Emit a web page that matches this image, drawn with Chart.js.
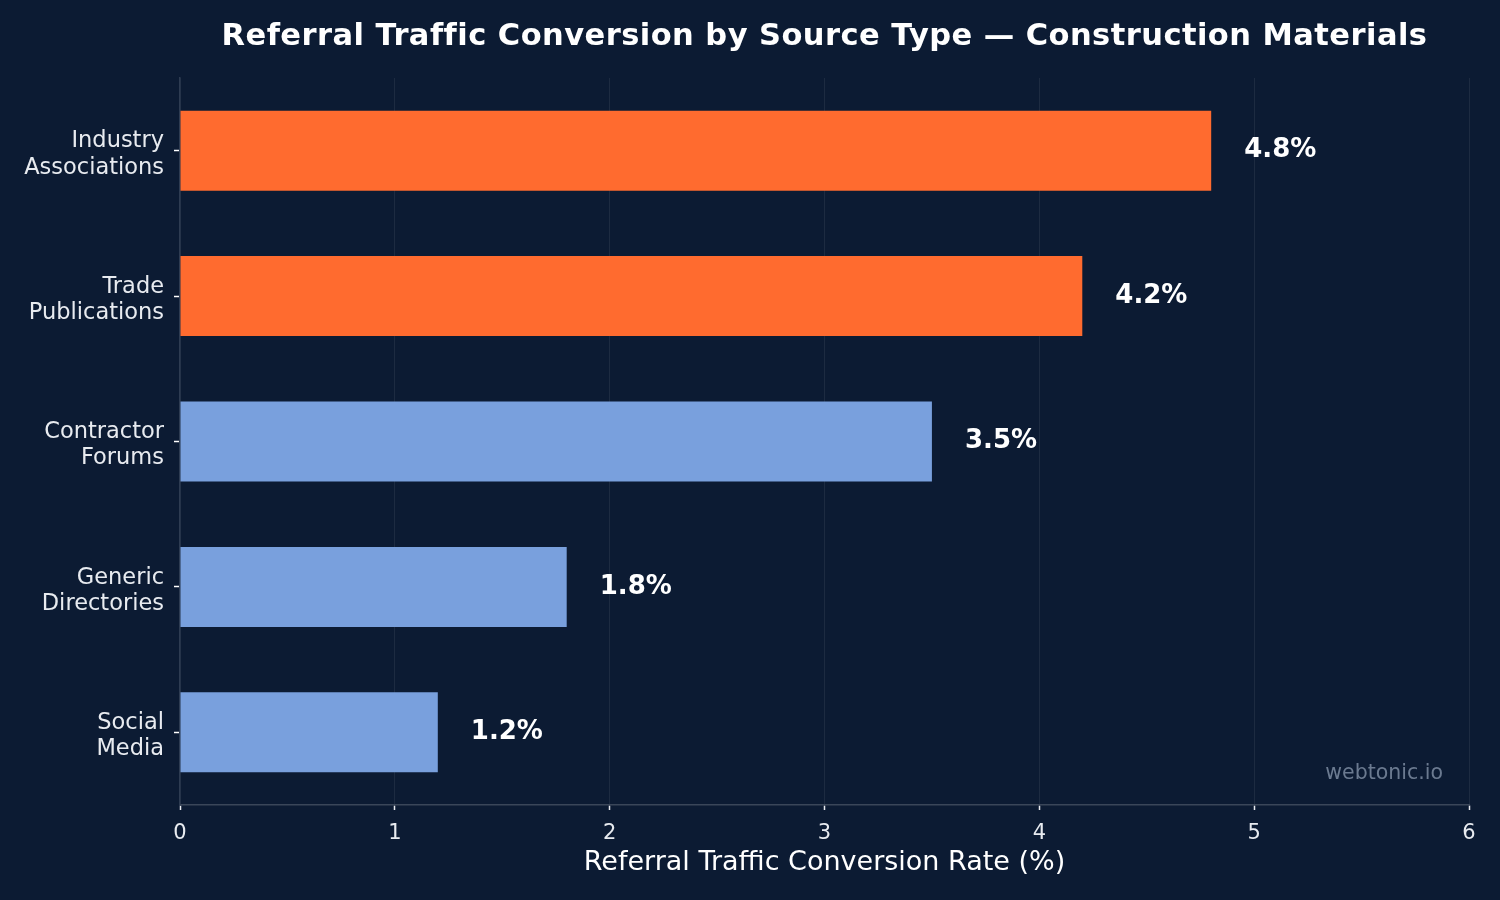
<!DOCTYPE html>
<html>
<head>
<meta charset="utf-8">
<script src="https://cdn.jsdelivr.net/npm/chart.js@4.4.1/dist/chart.umd.min.js"></script>
<style>
  html, body { margin: 0; padding: 0; background: #0c1b33; }
  #wrap { width: 1500px; height: 900px; }
</style>
</head>
<body>
<div id="wrap"><canvas id="c" width="1500" height="900"></canvas></div>
<script>
const categories = [
  ['Industry', 'Associations'],
  ['Trade', 'Publications'],
  ['Contractor', 'Forums'],
  ['Generic', 'Directories'],
  ['Social', 'Media']
];
const conversionRates = [4.8, 4.2, 3.5, 1.8, 1.2];
const highlighted = [true, true, false, false, false];
const valueLabels = ['4.8%', '4.2%', '3.5%', '1.8%', '1.2%'];
const xTicks = [0, 1, 2, 3, 4, 5, 6];

const chartTitle = 'Referral Traffic Conversion by Source Type — Construction Materials';
const xAxisTitle = 'Referral Traffic Conversion Rate (%)';
const watermark = 'webtonic.io';

const BG = '#0c1b33';
const ORANGE = '#ff6b2f';
const BLUE = '#79a0dd';
const FONT = "'DejaVu Sans', sans-serif";

const bgPlugin = {
  id: 'bg',
  beforeDraw(chart) {
    const ctx = chart.ctx;
    ctx.save();
    ctx.fillStyle = BG;
    ctx.fillRect(0, 0, chart.width, chart.height);
    ctx.restore();
  }
};

const overlayPlugin = {
  id: 'overlay',
  afterDraw(chart) {
    const ctx = chart.ctx;
    const area = chart.chartArea;
    ctx.save();
    // title
    ctx.fillStyle = '#ffffff';
    ctx.font = 'bold 30.5px ' + FONT;
    ctx.textAlign = 'center';
    ctx.textBaseline = 'alphabetic';
    if ('letterSpacing' in ctx) ctx.letterSpacing = '0.45px';
    ctx.fillText(chartTitle, (area.left + area.right) / 2, 45);
    if ('letterSpacing' in ctx) ctx.letterSpacing = '0px';
    // value labels
    const meta = chart.getDatasetMeta(0);
    ctx.font = 'bold 26px ' + FONT;
    ctx.textAlign = 'left';
    ctx.textBaseline = 'middle';
    meta.data.forEach((bar, i) => {
      ctx.fillText(valueLabels[i], bar.x + 33, bar.y);
    });
    // watermark
    ctx.fillStyle = '#6b7a90';
    ctx.font = '20.5px ' + FONT;
    ctx.textAlign = 'right';
    ctx.textBaseline = 'alphabetic';
    ctx.fillText(watermark, 1443, 779);
    ctx.restore();
  }
};

new Chart(document.getElementById('c'), {
  type: 'bar',
  data: {
    labels: categories,
    datasets: [{
      data: conversionRates,
      backgroundColor: highlighted.map(h => h ? ORANGE : BLUE),
      borderWidth: 0,
      categoryPercentage: 1.0,
      barPercentage: 0.55
    }]
  },
  options: {
    indexAxis: 'y',
    responsive: false,
    animation: false,
    devicePixelRatio: 1,
    layout: { padding: { top: 78, right: 31, bottom: 0, left: 0 } },
    plugins: {
      legend: { display: false },
      tooltip: { enabled: false },
      title: { display: false }
    },
    scales: {
      x: {
        min: 0,
        max: 6,
        afterFit(scale) { scale.height = 95; },
        afterBuildTicks(scale) { scale.ticks = xTicks.map(v => ({ value: v })); },
        ticks: {
          color: '#e8ebf0',
          font: { family: FONT, size: 21 },
          padding: 11
        },
        grid: {
          color: 'rgba(255,255,255,0.07)',
          lineWidth: 1,
          tickColor: '#e8ebf0',
          tickLength: 5,
          tickWidth: 1.5
        },
        border: { color: '#3a4659', width: 1.5 },
        title: {
          display: true,
          text: xAxisTitle,
          color: '#ffffff',
          font: { family: FONT, size: 27 },
          padding: { top: 0, bottom: 21 }
        }
      },
      y: {
        afterFit(scale) { scale.width = 180; },
        ticks: {
          color: '#e8ebf0',
          font: { family: FONT, size: 22.5, lineHeight: 1.16 },
          padding: 10,
          labelOffset: 4
        },
        grid: {
          display: true,
          offset: false,
          drawOnChartArea: false,
          tickColor: '#ffffff',
          tickLength: 6,
          tickWidth: 1.5
        },
        border: { color: '#2e3c52', width: 1.5 }
      }
    }
  },
  plugins: [bgPlugin, overlayPlugin]
});
</script>
</body>
</html>
